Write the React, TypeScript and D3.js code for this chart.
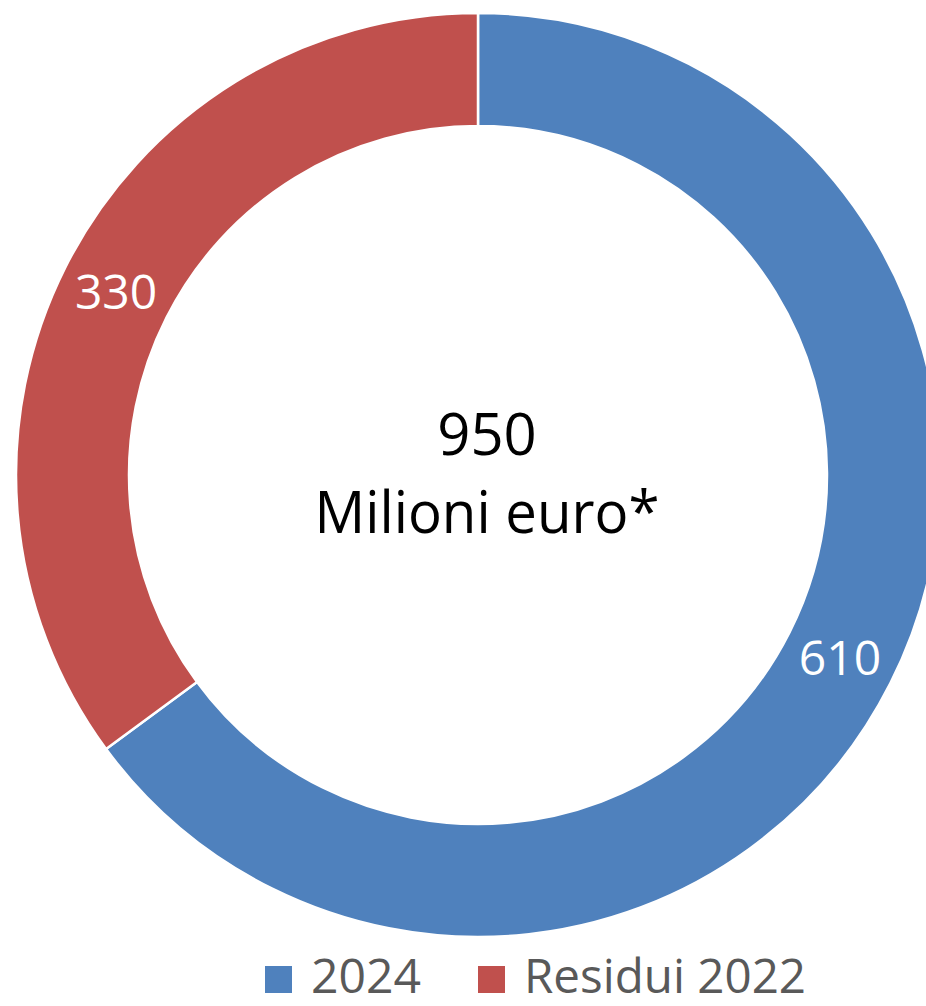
import React, { useEffect, useRef } from 'react';
import * as d3 from 'd3';

const categories: string[] = ['2024', 'Residui 2022'];
const values: number[] = [610, 330];
const colors: string[] = ['#4F81BD', '#C0504D'];
const totalLabel = '950';
const unitLabel = 'Milioni euro*';

const FONT = "'Open Sans', 'Noto Sans', sans-serif";

const DonutChart: React.FC = () => {
  const svgRef = useRef<SVGSVGElement | null>(null);

  useEffect(() => {
    const svg = d3.select(svgRef.current);
    svg.selectAll('*').remove();

    const width = 926;
    const height = 1006;
    const cx = 478;
    const cy = 475;
    const outerR = 462;
    const innerR = 349;

    const data = categories.map((c, i) => ({ name: c, value: values[i], color: colors[i] }));

    const pie = d3
      .pie<{ name: string; value: number; color: string }>()
      .sort(null)
      .value(d => d.value);

    const arc = d3
      .arc<d3.PieArcDatum<{ name: string; value: number; color: string }>>()
      .innerRadius(innerR)
      .outerRadius(outerR);

    svg.attr('width', width).attr('height', height);

    const g = svg.append('g').attr('transform', `translate(${cx},${cy})`);

    const arcs = pie(data);

    g.selectAll('path')
      .data(arcs)
      .enter()
      .append('path')
      .attr('d', arc)
      .attr('fill', d => d.data.color)
      .attr('stroke', '#fff')
      .attr('stroke-width', 2.5);

    // Slice labels
    g.selectAll('text.val')
      .data(arcs)
      .enter()
      .append('text')
      .attr('class', 'val')
      .attr('x', d => arc.centroid(d)[0])
      .attr('y', d => arc.centroid(d)[1] + 17)
      .attr('text-anchor', 'middle')
      .attr('fill', '#fff')
      .style('font-family', FONT)
      .style('font-size', '48px')
      .text(d => String(d.data.value));

    // Center text
    svg
      .append('text')
      .attr('x', 487)
      .attr('y', 455)
      .attr('text-anchor', 'middle')
      .attr('fill', '#000')
      .style('font-family', FONT)
      .style('font-size', '58px')
      .text(totalLabel);

    svg
      .append('text')
      .attr('x', 487)
      .attr('y', 533)
      .attr('text-anchor', 'middle')
      .attr('fill', '#000')
      .style('font-family', FONT)
      .style('font-size', '58px')
      .attr('textLength', 345)
      .attr('lengthAdjust', 'spacingAndGlyphs')
      .text(unitLabel);

    // Legend (kept a few px above the bottom edge so text isn't clipped)
    const legendX = [265, 478];
    const textW = [110, 282];
    const legend = svg
      .selectAll('g.legend')
      .data(data)
      .enter()
      .append('g')
      .attr('class', 'legend')
      .attr('transform', (_d, i) => `translate(${legendX[i]},966)`);

    legend
      .append('rect')
      .attr('width', 27)
      .attr('height', 27)
      .attr('fill', d => d.color);

    legend
      .append('text')
      .attr('x', 46)
      .attr('y', 27)
      .attr('fill', '#595959')
      .style('font-family', FONT)
      .style('font-size', '47px')
      .attr('textLength', (_d, i) => textW[i])
      .attr('lengthAdjust', 'spacingAndGlyphs')
      .text(d => d.name);
  }, []);

  return <svg ref={svgRef} style={{ position: 'absolute', left: 0, top: 0, display: 'block' }} />;
};

export default function App() {
  return <DonutChart />;
}
